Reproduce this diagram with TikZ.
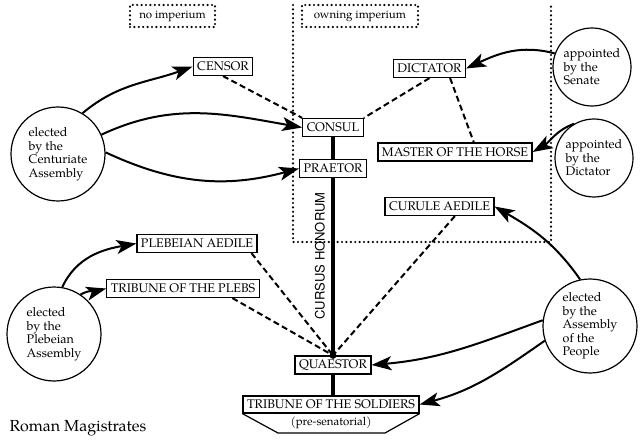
\documentclass[tikz,border=0pt]{standalone}
\usepackage{fontspec}
\setmainfont{TeX Gyre Pagella}
\newfontfamily\cursusfont{TeX Gyre Heros}
\usetikzlibrary{arrows.meta}

\begin{document}
\begin{tikzpicture}[x=1pt, y=1pt, thick]
    \useasboundingbox (0,0) rectangle (640,445);

    % 1. Styles
    \tikzstyle{Office} = [draw, line width=1.2pt, fill=white, font=\fontsize{12.5}{14}\selectfont, inner xsep=4pt, inner ysep=2pt, minimum height=18pt]
    \tikzstyle{Assembly} = [circle, draw, line width=1.2pt, align=left, font=\fontsize{12.5}{13.5}\selectfont, inner sep=0pt]
    \tikzstyle{Zone} = [line width=2.4pt, dash pattern=on 0pt off 4.4pt, line cap=round]
    \tikzstyle{Elect} = [line width=2pt, -{Stealth[length=20pt, width=14pt, inset=5pt]}]
    \tikzstyle{Link} = [line width=2pt, dash pattern=on 6pt off 3.5pt]
    \tikzstyle{Honor} = [line width=3.5pt]

    % 2. Imperium zones
    \node[Zone, draw, minimum width=85pt, minimum height=22pt, font=\fontsize{11.5}{13}\selectfont] (noimp) at (172.5,429) {no imperium};
    \node[Zone, draw, minimum width=116pt, minimum height=22pt, font=\fontsize{11.5}{13}\selectfont] (ownimp) at (360,429) {owning imperium};
    \coordinate (ZoneTL) at (293,440);
    \coordinate (ZoneBL) at (293,203);
    \coordinate (ZoneBR) at (551,203);
    \coordinate (ZoneTR) at (551,440);
    \draw[Zone] (ZoneTL) -- (ZoneBL) -- (ZoneBR) -- (ZoneTR);

    % 3. Offices
    \node[Office] (censor)   at (223,378.5) {CENSOR};
    \node[Office] (consul)   at (333,317.5) {CONSUL};
    \node[Office] (praetor)  at (333,276.5) {PRAETOR};
    \node[Office] (quaestor) at (333,80)    {QUAESTOR};
    \node[Office, minimum width=176pt, minimum height=17pt] (tribsol) at (331,40.5) {TRIBUNE OF THE SOLDIERS};
    \node[Office] (dictator) at (429.5,376.5) {DICTATOR};
    \node[Office] (master)   at (455,293)   {MASTER OF THE HORSE};
    \node[Office] (curule)   at (439.5,238.5) {CURULE AEDILE};
    \node[Office] (plebaed)  at (197,201.5) {PLEBEIAN AEDILE};
    \node[Office] (tribpleb) at (183,156.5) {TRIBUNE OF THE PLEBS};

    % pre-senatorial foot under the tribune box
    \coordinate (FootL) at (278,12);
    \coordinate (FootR) at (385,12);
    \draw[line width=1.2pt] (tribsol.south west) -- (FootL) -- (FootR) -- (tribsol.south east);
    \node[font=\fontsize{11.5}{13}\selectfont] (presen) at (331,22) {(pre-senatorial)};

    % 4. Assemblies (circles)
    \node[Assembly, minimum size=94pt] (centuriate) at (58,291) {elected\\by the\\Centuriate\\Assembly};
    \node[Assembly, minimum size=94pt] (plebeian)   at (54,111) {elected\\by the\\Plebeian\\Assembly};
    \node[Assembly, minimum size=78pt] (senate)     at (592,378) {appointed\\by the\\Senate};
    \node[Assembly, minimum size=78pt] (dictcirc)   at (594,287) {appointed\\by the\\Dictator};
    \node[Assembly, minimum size=94pt] (people)     at (590,119) {elected\\by the\\Assembly\\of the\\People};

    % 5. Cursus honorum
    \coordinate (qtop) at (quaestor.north);
    \draw[Honor] (consul.south) -- (praetor.north);
    \draw[Honor] (praetor.south) -- (qtop);
    \draw[Honor] (quaestor.south) -- (quaestor.south |- tribsol.north);
    \node[rotate=90, font=\cursusfont\fontsize{13}{15}\selectfont] (cursus) at (320,189) {CURSUS HONORUM};

    % 6. Dashed links
    \draw[Link] (censor.south) -- (consul.north west);
    \draw[Link] (dictator.south) -- (consul.north east);
    \draw[Link] (dictator.-25) -- (master.27);
    \draw[Link] (plebaed.-10) -- (qtop);
    \draw[Link] (tribpleb.-11) -- (qtop);
    \draw[Link] (curule.-32) -- (qtop);
    \filldraw (qtop) circle (3pt);

    % 7. Elections and appointments
    \draw[Elect] (centuriate.59) to[out=40, in=200] (censor.west);
    \draw[Elect] (centuriate.24) to[out=25, in=170] (consul.west);
    \draw[Elect] (centuriate.2)  to[out=-25, in=195] (praetor.west);
    \draw[Elect] (plebeian.80)   to[out=65, in=190] (plebaed.west);
    \draw[Elect] (plebeian.56)   to[out=30, in=195] (tribpleb.west);
    \draw[Elect] (senate.160)    to[out=165, in=25] (dictator.east);
    \draw[Elect] (dictcirc.120)  to[out=200, in=30] (master.east);
    \draw[Elect] (people.102)    to[out=125, in=-30] (curule.east);
    \draw[Elect] (people.173)    to[out=200, in=5] (quaestor.east);
    \draw[Elect] (people.198)    to[out=215, in=15] (tribsol.east);

    % 8. Title
    \node[anchor=base west, font=\fontsize{16}{18}\selectfont] (title) at (6,14) {Roman Magistrates};
\end{tikzpicture}
\end{document}
